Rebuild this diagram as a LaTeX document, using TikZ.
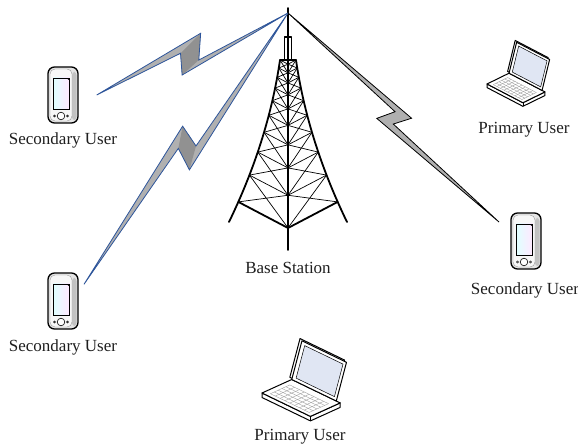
\documentclass[tikz,border=0pt]{standalone}
\usepackage{fontspec}
\setmainfont{Liberation Serif}
\usetikzlibrary{calc}
\definecolor{boltblue}{RGB}{45,85,155}
\definecolor{boltgray}{RGB}{176,176,176}
\definecolor{boltdark}{RGB}{145,145,145}
\definecolor{screenblue}{RGB}{224,230,243}

% point at fraction #3 of the way from #1 to #2, shifted #4pt sideways
\newcommand\bpt[4]{($(#1)!#3!(#2)!#4pt!90:(#2)$)}

\tikzset{
  devlabel/.style={font=\fontsize{17}{20}\selectfont, text=black!88, inner sep=0pt},
  leg/.style={line width=1.8pt, line cap=round, line join=round},
  lattice/.style={line width=0.7pt},
  boltline/.style={line width=0.8pt, line join=miter},
  pda/.pic={
    \draw[line width=1.3pt, fill=black!10, rounded corners=6.5pt] (-15,-28) rectangle (15,28);
    \fill[black!24, rounded corners=3pt] (9,-23) rectangle (13.5,25);
    \draw[black!45, line width=0.3pt, rounded corners=5pt, fill=black!3] (-13,-26) rectangle (9,26);
    \shade[left color=cyan!12, right color=magenta!9] (-9.5,-17) rectangle (6.5,14);
    \draw[line width=0.5pt] (-9.5,-17) rectangle (6.5,14);
    \fill (5.5,-16) circle (0.9);
    \draw[line width=0.6pt, fill=white] (-2,21) circle (3.8);
    \draw[line width=0.5pt, fill=white] (-8.5,21) circle (1.1) (4.5,21) circle (1.1);
  },
  laptop/.pic={
    % case sides
    \draw[line width=1pt, fill=white, line join=round]
      (0,0) -- (57,26) -- (92,11) -- (92,16) -- (57,31) -- (0,5) -- cycle;
    \draw[line width=0.6pt] (57,26) -- (57,31);
    % keyboard deck
    \draw[line width=1pt, fill=white, line join=round]
      (0,0) -- (35,-15) -- (92,11) -- (57,26) -- cycle;
    \begin{scope}[x={(57pt,-26pt)}, y={(35pt,15pt)}]
      \foreach \a in {0.12,0.25,0.38,0.51,0.64,0.77}
        \draw[black!40, line width=0.35pt] (0.1,\a) -- (0.9,\a);
      \foreach \b in {0.1,0.2,0.3,0.4,0.5,0.6,0.7,0.8,0.9}
        \draw[black!40, line width=0.35pt] (\b,0.12) -- (\b,0.77);
    \end{scope}
    % lid with its screen
    \begin{scope}[shift={(35,-15)}, x={(52.4pt,-23.9pt)}, y={(12pt,43pt)}]
      \draw[line width=1pt, fill=white, line join=round]
        (-0.05,0.03) -- (0.95,0.03) -- (0.95,1.03) -- (-0.05,1.03) -- cycle;
      \draw[line width=1pt, fill=white, line join=round]
        (0,0) -- (1,0) -- (1,1) -- (0,1) -- cycle;
      \draw[line width=0.5pt, fill=screenblue]
        (0.08,0.08) -- (0.94,0.08) -- (0.94,0.92) -- (0.08,0.92) -- cycle;
    \end{scope}
  }
}

\begin{document}
\begin{tikzpicture}[x=1pt, y=-1pt]
\useasboundingbox (0,0) rectangle (578,446);

% ---------- tower ----------
\draw[leg] plot[domain=60:222, samples=40, variable=\yy]
  ({288-(8+23.5*((\yy-60)/162)+27.5*((\yy-60)/162)^2)}, \yy);
\draw[leg] plot[domain=60:222, samples=40, variable=\yy]
  ({288+(8+23.5*((\yy-60)/162)+27.5*((\yy-60)/162)^2)}, \yy);
\foreach \ya/\yb in {60/68, 68/77.3, 77.3/88.1, 88.1/100.7, 100.7/115.3,
                     115.3/132.3, 132.3/152.1, 152.1/175.1, 175.1/201.9} {
  \pgfmathsetmacro\ta{(\ya-60)/162}
  \pgfmathsetmacro\wa{8+23.5*\ta+27.5*\ta*\ta}
  \pgfmathsetmacro\tb{(\yb-60)/162}
  \pgfmathsetmacro\wb{8+23.5*\tb+27.5*\tb*\tb}
  \draw[lattice] (288-\wa,\ya) -- (288,\ya+0.523*\wa) -- (288+\wa,\ya);
  \draw[lattice] (288-\wa,\ya) -- (288,\yb+0.523*\wb)
                 (288,\ya+0.523*\wa) -- (288-\wb,\yb)
                 (288+\wa,\ya) -- (288,\yb+0.523*\wb)
                 (288,\ya+0.523*\wa) -- (288+\wb,\yb);
}
\draw[leg] (238.3,201.9) -- (288,228) -- (337.7,201.9);
\draw[leg] (280,60) -- (296,60);
\draw[leg] (284.5,60) -- (284.5,37) -- (291.5,37) -- (291.5,60);
\draw[leg] (288,8) -- (288,250);
\node[devlabel] (bs) at (288,268) {Base Station};

% ---------- devices ----------
\pic (su1) at (63,95) {pda};
\node[devlabel] (lsu1) at (63,140) {Secondary User};
\pic (su2) at (63,301) {pda};
\node[devlabel] (lsu2) at (63,347) {Secondary User};
\pic (su3) at (526,241) {pda};
\node[devlabel] (lsu3) at (525,290) {Secondary User};
\pic[xscale=0.63, yscale=0.72] (pu1) at (487,84) {laptop};
\node[devlabel] (lpu1) at (524,130) {Primary User};
\pic[xscale=0.85, yscale=0.9] (pu2) at (262,393) {laptop};
\node[devlabel] (lpu2) at (300,437) {Primary User};

% ---------- radio links ----------
\coordinate (tip) at (288,13);
\coordinate (e1) at (96.7,95);
\coordinate (e2) at (84,284.3);
\coordinate (e3) at (499,222);

% link to upper left handset
\fill[boltgray] (e1) -- \bpt{e1}{tip}{0.576}{15.8} -- \bpt{e1}{tip}{0.517}{-8.1} -- (tip)
  -- \bpt{e1}{tip}{0.415}{-15.3} -- \bpt{e1}{tip}{0.449}{5.3} -- cycle;
\fill[boltdark] \bpt{e1}{tip}{0.576}{15.8} -- \bpt{e1}{tip}{0.517}{-8.1}
  -- \bpt{e1}{tip}{0.415}{-15.3} -- \bpt{e1}{tip}{0.449}{5.3} -- cycle;
\draw[boltline, draw=boltblue] (e1) -- \bpt{e1}{tip}{0.576}{15.8} -- \bpt{e1}{tip}{0.517}{-8.1} -- (tip)
  -- \bpt{e1}{tip}{0.415}{-15.3} -- \bpt{e1}{tip}{0.449}{5.3} -- cycle;

% link to lower left handset
\fill[boltgray] (e2) -- \bpt{e2}{tip}{0.547}{16.2} -- \bpt{e2}{tip}{0.524}{-6.4} -- (tip)
  -- \bpt{e2}{tip}{0.456}{-15.5} -- \bpt{e2}{tip}{0.487}{6.3} -- cycle;
\fill[boltdark] \bpt{e2}{tip}{0.547}{16.2} -- \bpt{e2}{tip}{0.524}{-6.4}
  -- \bpt{e2}{tip}{0.456}{-15.5} -- \bpt{e2}{tip}{0.487}{6.3} -- cycle;
\draw[boltline, draw=boltblue] (e2) -- \bpt{e2}{tip}{0.547}{16.2} -- \bpt{e2}{tip}{0.524}{-6.4} -- (tip)
  -- \bpt{e2}{tip}{0.456}{-15.5} -- \bpt{e2}{tip}{0.487}{6.3} -- cycle;

% link to right handset
\fill[boltgray] (e3) -- \bpt{e3}{tip}{0.538}{12.4} -- \bpt{e3}{tip}{0.51}{-5.2} -- (tip)
  -- \bpt{e3}{tip}{0.455}{-12.2} -- \bpt{e3}{tip}{0.485}{4.8} -- cycle;
\draw[boltline, draw=black] (e3) -- \bpt{e3}{tip}{0.538}{12.4} -- \bpt{e3}{tip}{0.51}{-5.2} -- (tip)
  -- \bpt{e3}{tip}{0.455}{-12.2} -- \bpt{e3}{tip}{0.485}{4.8} -- cycle;
\end{tikzpicture}
\end{document}
